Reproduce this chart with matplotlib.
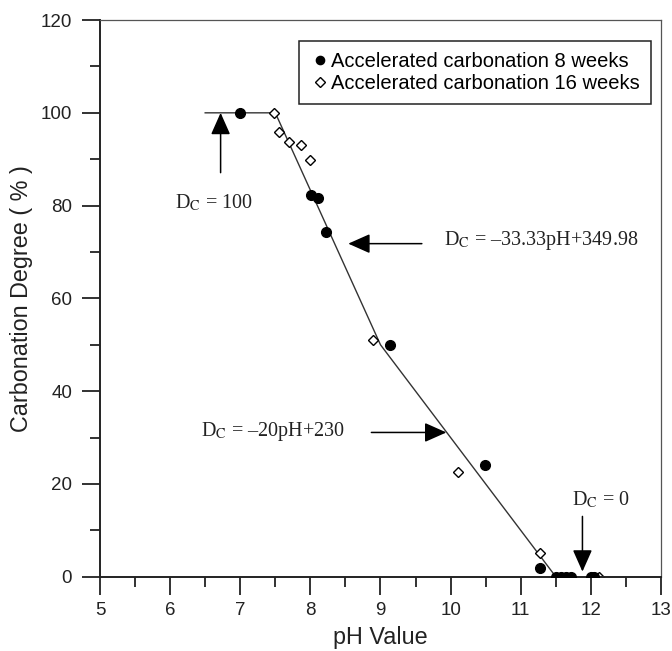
import matplotlib
matplotlib.use('Agg')
import matplotlib.pyplot as plt
from matplotlib.ticker import MultipleLocator

# measured points
ph_8w = [7.0, 8.01, 8.11, 8.22, 9.13, 10.49, 11.27, 11.5, 11.57, 11.64, 11.71, 12.0, 12.05]
dc_8w = [100, 82.3, 81.7, 74.3, 50.0, 24.0, 1.8, 0, 0, 0, 0, 0, 0]
ph_16w = [7.0, 7.48, 7.55, 7.69, 7.86, 7.99, 8.9, 10.1, 11.27, 12.12]
dc_16w = [100, 100, 95.8, 93.7, 93.1, 89.9, 51.0, 22.6, 5.2, 0]

# piecewise fit: Dc=100 / -33.33pH+349.98 / -20pH+230
fit_ph = [6.5, 7.5, 9.0, 11.5]
fit_dc = [100, 100, 50, 0]

plt.rcParams['font.family'] = ['Liberation Sans', 'DejaVu Sans']
plt.rcParams['mathtext.fontset'] = 'stix'

fig = plt.figure(figsize=(6.72, 6.51), dpi=100)
ax = fig.add_axes([0.1488, 0.1141, 0.8348, 0.8551])

ax.plot(fit_ph, fit_dc, color='#333333', lw=1.0, zorder=1)
ax.plot(ph_8w, dc_8w, 'o', color='black', ms=7, ls='none', zorder=3,
        label='Accelerated carbonation 8 weeks')
ax.plot(ph_16w, dc_16w, 'D', mfc='white', mec='black', mew=1.0, ms=5.5, ls='none', zorder=2,
        label='Accelerated carbonation 16 weeks')

ax.set_xlim(5, 13)
ax.set_ylim(0, 120)
ax.xaxis.set_major_locator(MultipleLocator(1))
ax.xaxis.set_minor_locator(MultipleLocator(0.5))
ax.yaxis.set_major_locator(MultipleLocator(20))
ax.yaxis.set_minor_locator(MultipleLocator(10))
ax.tick_params(which='major', direction='out', length=13, width=1.3, labelsize=13.5,
               colors='#222222', labelcolor='#222222')
ax.tick_params(which='minor', direction='out', length=7, width=1.3, colors='#222222')
ax.tick_params(axis='x', which='major', pad=5)
ax.tick_params(axis='y', which='major', pad=7)

for s in ['left', 'bottom']:
    ax.spines[s].set_linewidth(1.4)
    ax.spines[s].set_color('#222222')
for s in ['top', 'right']:
    ax.spines[s].set_linewidth(0.9)
    ax.spines[s].set_color('#555555')

ax.set_xlabel('pH Value', fontsize=16.8, labelpad=5, color='#222222')
ax.set_ylabel('Carbonation Degree ( % )', fontsize=16.8, labelpad=6, color='#222222')

leg = ax.legend(loc='upper right', bbox_to_anchor=(0.9825, 0.962), fontsize=14.5,
                handletextpad=0.05, handlelength=1.0, borderpad=0.55, labelspacing=0.15,
                borderaxespad=0, markerscale=0.85,
                fancybox=False, edgecolor='#222222', framealpha=1)
leg.get_frame().set_linewidth(1.1)

serif = dict(family=['Liberation Serif', 'DejaVu Serif'], fontsize=14.5, color='#222222')
arrow = dict(arrowstyle='-|>,head_length=1.35,head_width=0.6', color='black', lw=1.1,
             shrinkA=0, shrinkB=0)

ax.annotate('', xy=(6.72, 100), xytext=(6.72, 87.1), arrowprops=arrow)
ax.text(6.07, 80.5, r'D$_\mathrm{C}$ = 100', va='center', ha='left', **serif)

ax.annotate('', xy=(8.54, 71.8), xytext=(9.59, 71.8), arrowprops=arrow)
ax.text(9.9, 72.5, 'D$_\\mathrm{C}$ = \u201333.33pH+349.98', va='center', ha='left', **serif)

ax.annotate('', xy=(9.94, 31.1), xytext=(8.87, 31.1), arrowprops=arrow)
ax.text(6.44, 31.3, 'D$_\\mathrm{C}$ = \u201320pH+230', va='center', ha='left', **serif)

ax.annotate('', xy=(11.88, 1.1), xytext=(11.88, 13.0), arrowprops=arrow)
ax.text(11.73, 16.6, r'D$_\mathrm{C}$ = 0', va='center', ha='left', **serif)

fig.savefig('out.png', dpi=100)
